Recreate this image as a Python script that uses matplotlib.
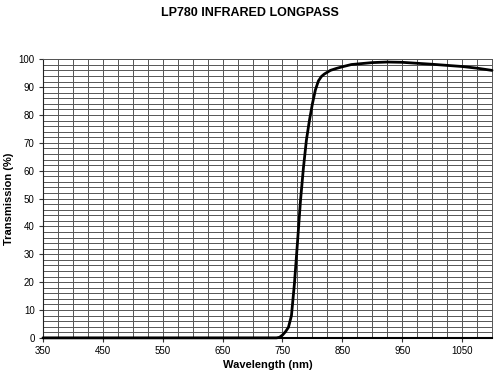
import matplotlib
matplotlib.use("Agg")
import matplotlib.pyplot as plt
import numpy as np

wavelength = [350, 740, 745, 750, 755, 760, 765, 770, 775, 780, 785, 790, 795, 800,
              805, 810, 815, 820, 830, 840, 850, 865, 900, 925, 950, 1000, 1050, 1075, 1100]
transmission = [0, 0, 0.2, 1.0, 2.2, 3.8, 8.0, 19.5, 34, 49, 61, 71, 78, 84,
                89, 92.2, 93.8, 94.7, 96.0, 96.7, 97.3, 98.1, 98.8, 99.0, 98.9, 98.2, 97.4, 96.8, 96.0]
xticks = [350, 450, 550, 650, 750, 850, 950, 1050]
yticks = [0, 10, 20, 30, 40, 50, 60, 70, 80, 90, 100]

plt.rcParams['font.family'] = ['Liberation Sans', 'DejaVu Sans']

fig = plt.figure(figsize=(5, 3.75), dpi=100)
ax = fig.add_axes([0.086, 0.099, 0.898, 0.743])

ax.set_xlim(350, 1100)
ax.set_ylim(0, 100)
ax.set_xticks(xticks)
ax.set_yticks(yticks)
ax.set_xticks(np.arange(350, 1101, 25), minor=True)
ax.set_yticks(np.arange(0, 101, 2), minor=True)
ax.grid(True, which='both', color='#555555', linewidth=0.7)
ax.tick_params(which='minor', length=0)
ax.tick_params(which='major', length=3, width=0.8, labelsize=7, pad=3, color='#333333')
for s in ['top', 'right']:
    ax.spines[s].set_color('#555555')
    ax.spines[s].set_linewidth(0.7)
ax.spines['left'].set_color('#222222')
ax.spines['bottom'].set_color('black')
ax.spines['bottom'].set_linewidth(1.5)

ax.plot(wavelength, transmission, color='black', linewidth=2.0, solid_capstyle='round', clip_on=False, zorder=5)

ax.set_xlabel('Wavelength (nm)', fontsize=8, fontweight='bold', labelpad=3)
ax.set_ylabel('Transmission (%)', fontsize=8, fontweight='bold', labelpad=3)
fig.text(0.5, 0.965, 'LP780 INFRARED LONGPASS', ha='center', va='center', fontsize=9, fontweight='bold')

fig.savefig('out.png', dpi=100)
